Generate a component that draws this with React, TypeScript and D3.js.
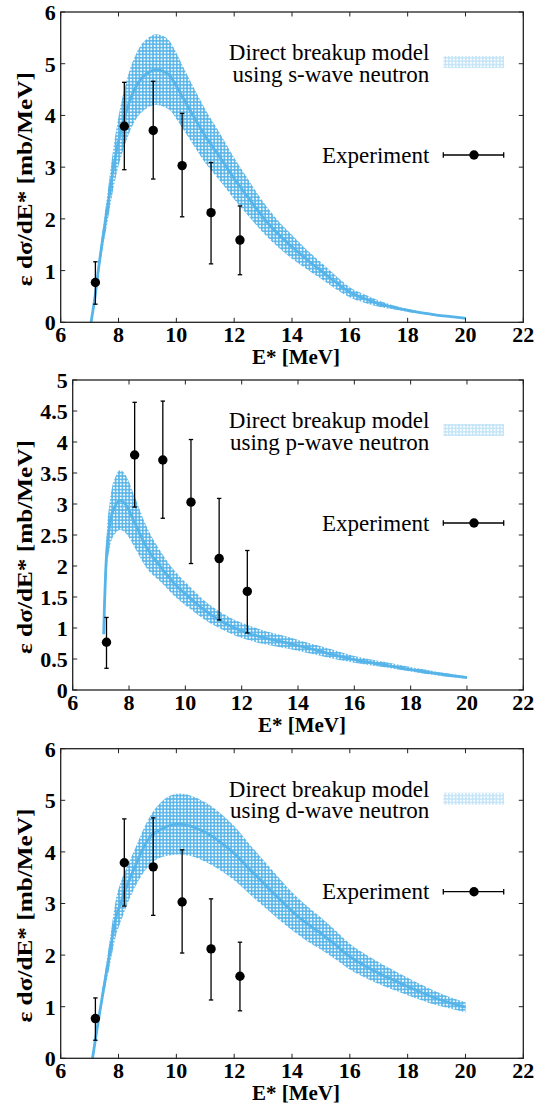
import * as d3 from 'd3'

// experimental points (same in every panel)
const expE = [7.2, 8.2, 9.2, 10.2, 11.2, 12.2]
const expY = [0.77, 3.79, 3.71, 3.03, 2.12, 1.59]
const expLo = [0.35, 2.95, 2.77, 2.04, 1.13, 0.92]
const expHi = [1.17, 4.64, 4.66, 4.04, 3.09, 2.25]

// s-wave model band
const sE = [7.05, 7.2, 7.3, 7.45, 7.6, 7.8, 8.0, 8.2, 8.4, 8.6, 8.8, 9.0, 9.3, 9.6, 9.8, 10.0, 10.2, 10.6, 11.0, 11.5, 12.0, 12.5, 13.0, 13.5, 14.0, 14.5, 15.0, 15.5, 16.0, 16.5, 17.0, 17.5, 18.0, 18.5, 19.0, 19.5, 20.0]
const sMid = [0, 0.55, 1.0, 1.6, 2.15, 2.9, 3.5, 3.95, 4.3, 4.55, 4.72, 4.82, 4.88, 4.84, 4.75, 4.57, 4.37, 3.98, 3.6, 3.2, 2.78, 2.4, 2.03, 1.72, 1.46, 1.22, 1.0, 0.78, 0.58, 0.46, 0.36, 0.29, 0.23, 0.18, 0.14, 0.11, 0.08]
const sHi = [0, 0.6, 1.1, 1.78, 2.42, 3.28, 3.98, 4.5, 4.9, 5.18, 5.38, 5.49, 5.57, 5.52, 5.41, 5.21, 4.98, 4.54, 4.12, 3.66, 3.18, 2.75, 2.33, 1.98, 1.69, 1.41, 1.16, 0.91, 0.68, 0.54, 0.42, 0.33, 0.26, 0.2, 0.155, 0.12, 0.09]
const sLo = [0, 0.5, 0.9, 1.42, 1.88, 2.52, 3.02, 3.4, 3.7, 3.92, 4.06, 4.15, 4.2, 4.16, 4.09, 3.93, 3.76, 3.42, 3.08, 2.74, 2.38, 2.05, 1.73, 1.46, 1.23, 1.03, 0.84, 0.65, 0.48, 0.38, 0.3, 0.25, 0.2, 0.16, 0.125, 0.1, 0.07]

// p-wave model band
const pE = [7.1, 7.13, 7.17, 7.22, 7.3, 7.4, 7.5, 7.68, 7.9, 8.2, 8.6, 9.2, 9.6, 10.2, 10.7, 11.2, 11.7, 12.2, 13.0, 13.7, 14.5, 15.0, 16.0, 17.0, 18.0, 19.0, 20.0]
const pMid = [0.9, 1.4, 1.9, 2.3, 2.62, 2.85, 2.96, 3.06, 2.98, 2.7, 2.32, 1.94, 1.72, 1.47, 1.28, 1.13, 1.01, 0.92, 0.82, 0.75, 0.66, 0.6, 0.49, 0.41, 0.33, 0.26, 0.2]
const pHi = [0.95, 1.55, 2.15, 2.62, 2.98, 3.28, 3.42, 3.55, 3.45, 3.12, 2.66, 2.18, 1.93, 1.65, 1.43, 1.27, 1.14, 1.05, 0.93, 0.85, 0.74, 0.68, 0.55, 0.46, 0.37, 0.29, 0.22]
const pLo = [0.85, 1.25, 1.65, 1.98, 2.26, 2.44, 2.52, 2.58, 2.52, 2.3, 1.98, 1.71, 1.52, 1.3, 1.13, 1.0, 0.89, 0.81, 0.72, 0.66, 0.58, 0.53, 0.44, 0.37, 0.3, 0.23, 0.18]

// d-wave model band
const dE = [7.1, 7.3, 7.5, 7.7, 7.9, 8.1, 8.3, 8.6, 9.0, 9.5, 10.1, 10.5, 11.0, 11.5, 12.0, 12.5, 13.0, 13.5, 14.0, 14.5, 15.0, 15.5, 16.0, 16.5, 17.0, 17.5, 18.0, 18.5, 19.0, 19.5, 20.0]
const dMid = [0, 0.72, 1.4, 2.05, 2.7, 3.05, 3.35, 3.75, 4.22, 4.45, 4.54, 4.5, 4.38, 4.2, 3.97, 3.68, 3.4, 3.12, 2.85, 2.62, 2.42, 2.2, 1.97, 1.8, 1.65, 1.52, 1.39, 1.27, 1.16, 1.07, 0.99]
const dHi = [0, 0.8, 1.55, 2.3, 3.05, 3.45, 3.72, 4.1, 4.6, 4.98, 5.13, 5.09, 4.96, 4.76, 4.5, 4.17, 3.85, 3.53, 3.22, 2.96, 2.73, 2.48, 2.22, 2.03, 1.86, 1.71, 1.56, 1.42, 1.29, 1.18, 1.09]
const dLo = [0, 0.64, 1.25, 1.8, 2.35, 2.68, 2.98, 3.35, 3.7, 3.9, 3.95, 3.92, 3.81, 3.65, 3.45, 3.2, 2.95, 2.71, 2.48, 2.28, 2.11, 1.92, 1.72, 1.57, 1.44, 1.33, 1.22, 1.12, 1.03, 0.96, 0.89]

// axis ticks
const xTicks = [6, 8, 10, 12, 14, 16, 18, 20, 22]
const yTicksSix = [0, 1, 2, 3, 4, 5, 6]
const yTicksFive = [0, 0.5, 1, 1.5, 2, 2.5, 3, 3.5, 4, 4.5, 5]

const BLUE = '#56b4e9'
const SERIF = "'Liberation Serif'"
const RIGHT = 523.3

const panels = [
  { id: 's', top: 12, bottom: 322.3, left: 60.7, yTicks: yTicksSix, E: sE, mid: sMid, hi: sHi, lo: sLo, wave: 's-wave' },
  { id: 'p', top: 380, bottom: 690, left: 72.7, yTicks: yTicksFive, E: pE, mid: pMid, hi: pHi, lo: pLo, wave: 'p-wave' },
  { id: 'd', top: 748.7, bottom: 1058.3, left: 60.7, yTicks: yTicksSix, E: dE, mid: dMid, hi: dHi, lo: dLo, wave: 'd-wave' },
]

type PanelProps = (typeof panels)[number]

const bold = { fontFamily: SERIF, fontWeight: 700, fontSize: 22 }
const plain = { fontFamily: SERIF, fontSize: 23 }

function Panel({ top, bottom, left, yTicks, E, mid, hi, lo, wave }: PanelProps) {
  const x = d3.scaleLinear().domain([6, 22]).range([left, RIGHT])
  const y = d3.scaleLinear().domain([0, yTicks[yTicks.length - 1]]).range([bottom, top])
  const idx = E.map((_, i) => i)

  const band = d3
    .area<number>()
    .x((i) => x(E[i]))
    .y0((i) => y(lo[i]))
    .y1((i) => y(hi[i]))
    .curve(d3.curveMonotoneX)
  const line = d3
    .line<number>()
    .x((i) => x(E[i]))
    .y((i) => y(mid[i]))
    .curve(d3.curveMonotoneX)

  const tl = 4.5 // tick length
  const midY = (top + bottom) / 2
  const lx = 429.3 // legend text right edge

  return (
    <g>
      {/* model band + central line */}
      <path d={band(idx) ?? ''} fill="url(#hatch)" />
      <path d={line(idx) ?? ''} fill="none" stroke={BLUE} strokeWidth={2.8} />

      {/* experiment */}
      {expE.map((e, i) => (
        <g key={i} stroke="#000" strokeWidth={1.3}>
          <line x1={x(e)} x2={x(e)} y1={y(expLo[i])} y2={y(expHi[i])} />
          <line x1={x(e) - 2.2} x2={x(e) + 2.2} y1={y(expLo[i])} y2={y(expLo[i])} />
          <line x1={x(e) - 2.2} x2={x(e) + 2.2} y1={y(expHi[i])} y2={y(expHi[i])} />
          <circle cx={x(e)} cy={y(expY[i])} r={4.7} fill="#000" stroke="none" />
        </g>
      ))}

      {/* frame and ticks */}
      <rect x={left} y={top} width={RIGHT - left} height={bottom - top} fill="none" stroke="#222" strokeWidth={1.3} />
      {xTicks.map((t) => (
        <g key={'x' + t}>
          <line x1={x(t)} x2={x(t)} y1={bottom} y2={bottom - tl} stroke="#222" />
          <line x1={x(t)} x2={x(t)} y1={top} y2={top + tl} stroke="#222" />
          <text x={x(t)} y={bottom + 19.5} textAnchor="middle" style={bold}>
            {t}
          </text>
        </g>
      ))}
      {yTicks.map((t) => (
        <g key={'y' + t}>
          <line x1={left} x2={left + tl} y1={y(t)} y2={y(t)} stroke="#222" />
          <line x1={RIGHT} x2={RIGHT - tl} y1={y(t)} y2={y(t)} stroke="#222" />
          <text x={left - 5} y={y(t)} dy="0.36em" textAnchor="end" style={bold}>
            {t}
          </text>
        </g>
      ))}

      {/* axis titles */}
      <text x={(left + RIGHT) / 2 + 4} y={bottom + 42} textAnchor="middle" style={{ ...bold, fontSize: 21 }}>
        E* [MeV]
      </text>
      <text
        transform={`translate(31.5,${midY + 12}) rotate(-90)`}
        textAnchor="middle"
        textLength={214}
        lengthAdjust="spacingAndGlyphs"
        style={bold}
      >
        ε dσ/dE* [mb/MeV]
      </text>

      {/* legend */}
      <text x={lx} y={top + 47.8} textAnchor="end" style={plain}>
        Direct breakup model
      </text>
      <text x={lx} y={top + 69.5} textAnchor="end" style={plain}>
        {`using ${wave} neutron`}
      </text>
      <text x={lx} y={top + 150.5} textAnchor="end" style={plain}>
        Experiment
      </text>
      <rect x={443.3} y={top + 44} width={60.7} height={12} fill="url(#hatch)" opacity={0.35} />
      <g stroke="#000" strokeWidth={1.3}>
        <line x1={443.3} x2={503.7} y1={top + 143} y2={top + 143} />
        <line x1={443.3} x2={443.3} y1={top + 140.3} y2={top + 145.7} />
        <line x1={503.7} x2={503.7} y1={top + 140.3} y2={top + 145.7} />
      </g>
      <circle cx={474} cy={top + 143} r={4.7} fill="#000" />
    </g>
  )
}

export default function App() {
  return (
    <svg width={540} height={1110} style={{ position: 'absolute', left: 0, top: 0, background: '#fff' }}>
      <defs>
        <pattern id="hatch" width={3.4} height={3.4} patternUnits="userSpaceOnUse">
          <rect width={3.4} height={3.4} fill={BLUE} />
          <circle cx={1.7} cy={1.7} r={1.05} fill="#fff" />
        </pattern>
      </defs>
      <rect width={540} height={1110} fill="#fff" />
      {panels.map((p) => (
        <Panel key={p.id} {...p} />
      ))}
    </svg>
  )
}
